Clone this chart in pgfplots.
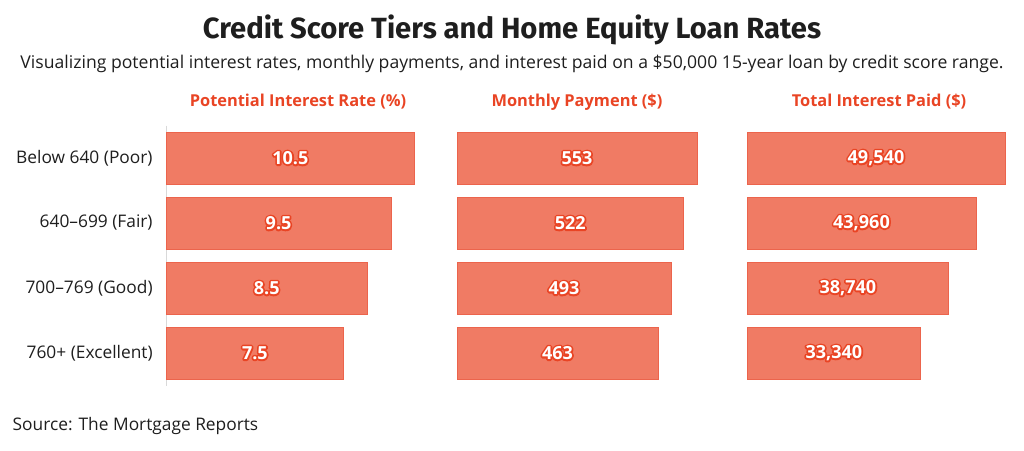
\documentclass[border=0pt]{standalone}
\usepackage{pgfplots}
\pgfplotsset{compat=1.18}
\usepackage{pgfplotstable}
\usepackage{fontspec}
\setmainfont{Open Sans}
\newfontfamily\titlefont{Fira Sans}
\definecolor{barfill}{RGB}{240,123,100}
\definecolor{baredge}{RGB}{236,100,76}
\definecolor{accent}{RGB}{233,68,36}
\definecolor{txt}{RGB}{30,30,30}
% outlined label: red stroked copy underneath, white text on top
\newcommand\outl[1]{\leavevmode\rlap{\textcolor{accent}{\special{pdf:literal direct 1 Tr 2.6 w 1 j 1 J}#1\special{pdf:literal direct 0 Tr 0.4 w 0 j 0 J}}}\textcolor{white}{#1}}

\pgfplotstableread{
y rate pay int lrate lpay lint
0 10.5 553 49540 10.5 553 49,540
1 9.5 522 43960 9.5 522 43,960
2 8.5 493 38740 8.5 493 38,740
3 7.5 463 33340 7.5 463 33,340
}\data

\pgfplotsset{
  panel/.style={
    scale only axis, height=195pt, y dir=reverse,
    ymin=-0.5, ymax=3.5, xmin=0, clip=false,
    anchor=north west,
    nodes near coords={\outl{\bfseries\pgfplotspointmeta}},
    every node near coord/.style={anchor=center, font=\fontsize{13.5}{14}\selectfont},
  },
  barsty/.style={xbar, bar width=39pt, fill=barfill, draw=baredge, line width=0.6pt, nodes near coords={}},
}

\begin{document}
\begin{tikzpicture}[x=0.75pt, y=-0.75pt]
\path[use as bounding box] (0,0) rectangle (1024,450);
\node[font=\titlefont\bfseries\fontsize{21.9}{24}\selectfont, text=txt] at (512,30) {Credit Score Tiers and Home Equity Loan Rates};
\node[font=\fontsize{13.2}{15}\selectfont, text=txt] at (512,64) {Visualizing potential interest rates, monthly payments, and interest paid on a \$50,000 15-year loan by credit score range.};
\node[font=\bfseries\fontsize{12.3}{14}\selectfont, text=accent] at (298,102) {Potential Interest Rate (\%)};
\node[font=\bfseries\fontsize{12.3}{14}\selectfont, text=accent] at (577,102) {Monthly Payment (\$)};
\node[font=\bfseries\fontsize{12.3}{14}\selectfont, text=accent] at (879,102) {Total Interest Paid (\$)};
\node[font=\fontsize{13}{15}\selectfont, text=txt, anchor=west] at (8,426) {Source: The Mortgage Reports};

\begin{axis}[panel, at={(124.5pt,-94.125pt)}, width=198pt, xmax=11.14,
  axis y line*=left, y axis line style={black!15},
  axis x line=none,
  ytick={0,1,2,3},
  yticklabels={Below 640 (Poor),640--699 (Fair),700--769 (Good),760+ (Excellent)},
  yticklabel style={font=\fontsize{13}{15}\selectfont, text=txt, xshift=-6.5pt},
  major tick length=7pt, tick style={black!15},
]
\addplot[barsty] table[x=rate, y=y] {\data};
\addplot[draw=none, point meta=explicit symbolic] table[x expr=\thisrow{rate}/2, y=y, meta=lrate] {\data};
\end{axis}

\begin{axis}[panel, at={(342.75pt,-94.125pt)}, width=180pt, xmax=553, hide axis]
\addplot[barsty] table[x=pay, y=y] {\data};
\addplot[draw=none, point meta=explicit symbolic] table[x expr=\thisrow{pay}/2, y=y, meta=lpay] {\data};
\end{axis}

\begin{axis}[panel, at={(560.25pt,-94.125pt)}, width=198pt, xmax=50690, hide axis]
\addplot[barsty] table[x=int, y=y] {\data};
\addplot[draw=none, point meta=explicit symbolic] table[x expr=\thisrow{int}/2, y=y, meta=lint] {\data};
\end{axis}
\end{tikzpicture}
\end{document}
